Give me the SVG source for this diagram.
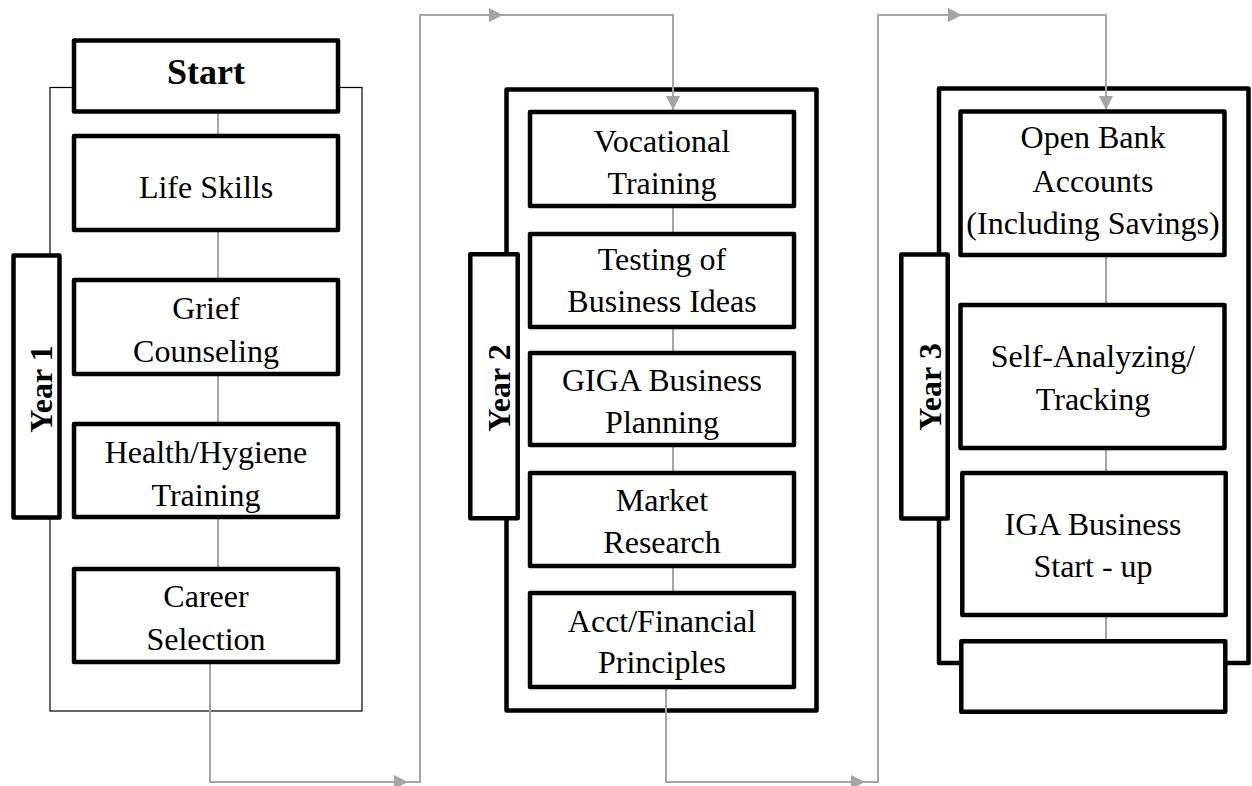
<svg xmlns="http://www.w3.org/2000/svg" width="1252" height="786" viewBox="0 0 1252 786">
<style>
.box{fill:#fff;stroke:#000;stroke-width:4.5;stroke-linejoin:round}
.thin{fill:none;stroke:#000;stroke-width:1.2}
.cont{fill:none;stroke:#000;stroke-width:4.5;stroke-linejoin:round}
.c{fill:none;stroke:#a5a5a5;stroke-width:2}
.t{font-family:"Liberation Serif","Times New Roman",serif;font-size:32px;text-anchor:middle;fill:#000}
.b{font-weight:bold}
</style>
<defs>
<marker id="arr" viewBox="0 0 10 10" refX="10" refY="5" markerWidth="16" markerHeight="14" markerUnits="userSpaceOnUse" orient="auto">
<path d="M0,0 L10,5 L0,10 z" fill="#a5a5a5"/>
</marker>
</defs>
<rect width="1252" height="786" fill="#fff"/>

<g id="containers">
<rect id="year1-container" class="thin" x="50" y="87.5" width="312" height="623.5"/>
<rect id="year2-container" class="cont" x="506.5" y="89.5" width="310" height="621"/>
<rect id="year3-container" class="cont" x="939" y="88.5" width="309.5" height="574.5"/>
</g>

<g id="connectors">
<path class="c" d="M218,113 V134"/>
<path class="c" d="M218,232 V278"/>
<path class="c" d="M218,376 V422"/>
<path class="c" d="M218,519 V567"/>
<path class="c" d="M673,208 V232"/>
<path class="c" d="M673,329 V351"/>
<path class="c" d="M673,447 V471"/>
<path class="c" d="M673,568 V591"/>
<path class="c" d="M1106,257 V303"/>
<path class="c" d="M1106,450 V471"/>
<path class="c" d="M1106,617 V639"/>
<path class="c" d="M218,663 H210 V782 H408" marker-end="url(#arr)"/>
<path class="c" d="M408,782 H420 V15 H503" marker-end="url(#arr)"/>
<path class="c" d="M503,15 H673 V110" marker-end="url(#arr)"/>
<path class="c" d="M673,688 H666 V782 H865" marker-end="url(#arr)"/>
<path class="c" d="M865,782 H878 V15 H962" marker-end="url(#arr)"/>
<path class="c" d="M962,15 H1106 V110" marker-end="url(#arr)"/>
</g>

<g id="year1-label">
<rect class="box" x="13.5" y="255.5" width="46" height="262"/>
<text class="t b" transform="translate(52,389) rotate(-90)">Year 1</text>
</g>
<g id="start">
<rect class="box" x="74" y="40.5" width="264" height="71"/>
<text class="t b" x="206" y="83.5" style="font-size:36px">Start</text>
</g>
<g id="life-skills">
<rect class="box" x="74" y="136" width="264" height="94"/>
<text class="t" x="206" y="198">Life Skills</text>
</g>
<g id="grief-counseling">
<rect class="box" x="74" y="280" width="264" height="94"/>
<text class="t" x="206" y="318.5">Grief</text>
<text class="t" x="206" y="361.5">Counseling</text>
</g>
<g id="health-hygiene">
<rect class="box" x="74" y="424" width="264" height="93"/>
<text class="t" x="206" y="463">Health/Hygiene</text>
<text class="t" x="206" y="506">Training</text>
</g>
<g id="career-selection">
<rect class="box" x="74" y="569" width="264" height="93"/>
<text class="t" x="206" y="607">Career</text>
<text class="t" x="206" y="650">Selection</text>
</g>

<g id="year2-label">
<rect class="box" x="470.3" y="254.3" width="47.4" height="264"/>
<text class="t b" transform="translate(510,388) rotate(-90)">Year 2</text>
</g>
<g id="vocational-training">
<rect class="box" x="530" y="112" width="264" height="94"/>
<text class="t" x="662" y="152">Vocational</text>
<text class="t" x="662" y="194">Training</text>
</g>
<g id="testing-business-ideas">
<rect class="box" x="530" y="234" width="264" height="93"/>
<text class="t" x="662" y="270">Testing of</text>
<text class="t" x="662" y="312">Business Ideas</text>
</g>
<g id="giga-business-planning">
<rect class="box" x="530" y="353" width="264" height="92"/>
<text class="t" x="662" y="391">GIGA Business</text>
<text class="t" x="662" y="433">Planning</text>
</g>
<g id="market-research">
<rect class="box" x="530" y="473" width="264" height="93"/>
<text class="t" x="662" y="511">Market</text>
<text class="t" x="662" y="553">Research</text>
</g>
<g id="acct-financial-principles">
<rect class="box" x="530" y="593" width="264" height="94"/>
<text class="t" x="662" y="632">Acct/Financial</text>
<text class="t" x="662" y="673">Principles</text>
</g>

<g id="year3-label">
<rect class="box" x="901.3" y="254.5" width="46.4" height="264"/>
<text class="t b" transform="translate(941,387) rotate(-90)">Year 3</text>
</g>
<g id="open-bank-accounts">
<rect class="box" x="960.5" y="111.5" width="264" height="143.5"/>
<text class="t" x="1093" y="148">Open Bank</text>
<text class="t" x="1093" y="192">Accounts</text>
<text class="t" x="1093" y="233.5">(Including Savings)</text>
</g>
<g id="self-analyzing-tracking">
<rect class="box" x="960.5" y="305" width="264" height="143"/>
<text class="t" x="1093" y="367">Self-Analyzing/</text>
<text class="t" x="1093" y="410">Tracking</text>
</g>
<g id="iga-business-startup">
<rect class="box" x="962.3" y="473" width="263.4" height="142"/>
<text class="t" x="1093" y="535">IGA Business</text>
<text class="t" x="1093" y="577">Start - up</text>
</g>
<g id="empty-box">
<rect class="box" x="961.3" y="641.3" width="264" height="70.4"/>
</g>
</svg>
